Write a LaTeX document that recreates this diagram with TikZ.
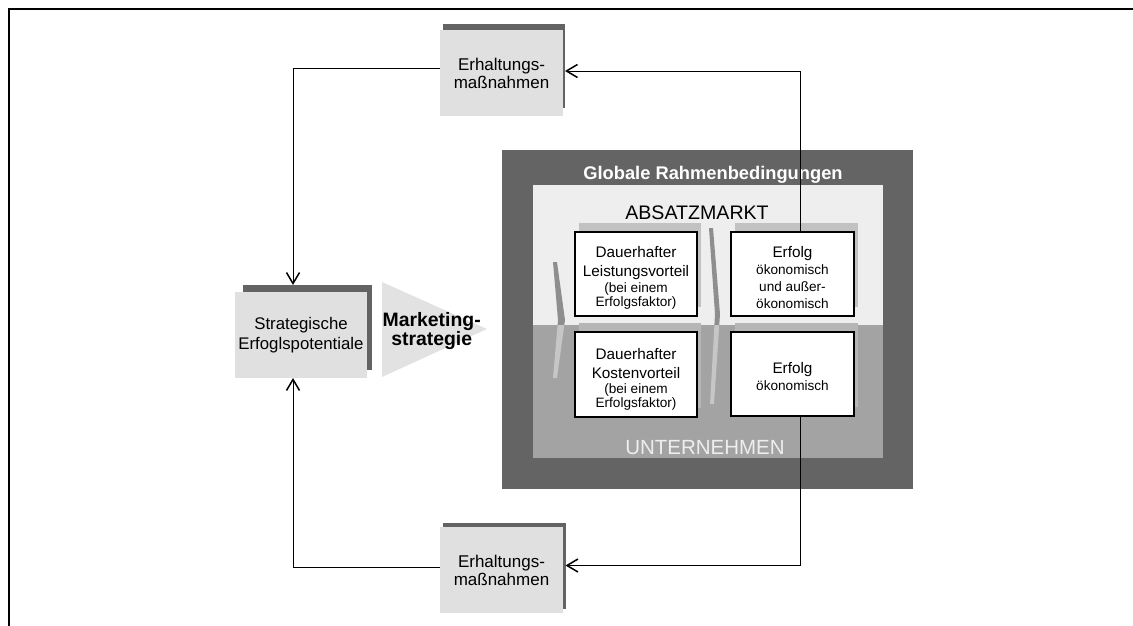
\documentclass[tikz,border=0pt]{standalone}
\usepackage{fontspec}
\setmainfont{Liberation Sans}
\usetikzlibrary{arrows.meta}
\newcommand{\fsz}[2]{\fontsize{#1}{#2}\selectfont}

\definecolor{frameDark}{HTML}{646464}
\definecolor{marketBg}{HTML}{EEEEEE}
\definecolor{firmBg}{HTML}{A3A3A3}
\definecolor{boxGray}{HTML}{E0E0E0}
\definecolor{triGray}{HTML}{E2E2E2}
\definecolor{shadowDark}{HTML}{636363}
\definecolor{shadowTop}{HTML}{C2C2C2}
\definecolor{shadowLow}{HTML}{B6B6B6}
\definecolor{chevTop}{HTML}{8E8E8E}
\definecolor{chevLow}{HTML}{C6C6C6}
\definecolor{firmText}{HTML}{EEEEEE}

\begin{document}
\begin{tikzpicture}[x=1pt,y=-1pt,
  area/.style args={#1x#2}{rectangle, inner sep=0pt, outer sep=0pt,
    minimum width=#1pt, minimum height=#2pt},
  graybox/.style={fill=boxGray, align=center, font=\fsz{17}{18}},
  whitebox/.style={fill=white, draw=black, line width=1.2pt},
  label/.style={inner sep=0pt, outer sep=0pt, align=center},
  boxtext/.style={label, font=\fsz{15.3}{18.5}},
  arr/.style={line width=0.9pt, -{Straight Barb[length=11pt,width=13pt,line width=1.5pt]}}]

\useasboundingbox (0,0) rectangle (1133,626);

% page border (top and left edge only)
\draw[line width=1.9pt] (8.7,626) -- (8.7,8.7) -- (1133,8.7);

% global frame with market / company zones
\node[area=411x339, fill=frameDark] (global) at (707.5,319.5) {};
\node[area=350x140, fill=marketBg] (market) at (708,255) {};
\node[area=350x133, fill=firmBg] (firm) at (708,391.5) {};

\node[label, text=white, font=\fsz{18.3}{20}\bfseries] (globT) at (713,175) {Globale Rahmenbedingungen};
\node[label, font=\fsz{19.6}{22}] (absT) at (697,212.5) {ABSATZMARKT};
\node[label, text=firmText, font=\fsz{20.5}{22}] (firmT) at (705,447.5) {UNTERNEHMEN};

% shadows of the advantage / success boxes
\node[area=122x84, fill=shadowTop] (As) at (640,265) {};
\node[area=123x84, fill=shadowTop] (Cs) at (796.5,265) {};
\node[area=122x85, fill=shadowLow] (Bs) at (640,365.5) {};
\node[area=123x84, fill=shadowLow] (Ds) at (796.5,365) {};

% chevrons between the columns
\begin{scope}
  \clip (533,185) rectangle (883,325);
  \fill[chevTop] (553,262) -- (557,262) -- (565,320) -- (557,378) -- (553,378) -- (558,320) -- cycle;
  \fill[chevTop] (709,228) -- (713,228) -- (720,314) -- (714,404) -- (710,404) -- (715,314) -- cycle;
\end{scope}
\begin{scope}
  \clip (533,325) rectangle (883,458);
  \fill[chevLow] (553,262) -- (557,262) -- (565,320) -- (557,378) -- (553,378) -- (558,320) -- cycle;
  \fill[chevLow] (709,228) -- (713,228) -- (720,314) -- (714,404) -- (710,404) -- (715,314) -- cycle;
\end{scope}

% advantage and success boxes
\node[whitebox, area=122x84] (A) at (636,274) {};
\node[whitebox, area=122x85] (B) at (636,374.5) {};
\node[whitebox, area=123x84] (C) at (792.5,274) {};
\node[whitebox, area=123x84] (D) at (792.5,374) {};

\node[boxtext] (At) at ([yshift=-4pt]A.center)
  {Dauerhafter\\[1pt]Leistungsvorteil\\[-3pt]\fsz{13.6}{15}(bei einem\\[-4pt]\fsz{13.6}{15}Erfolgsfaktor)};
\node[boxtext] (Bt) at ([yshift=-5pt]B.center)
  {Dauerhafter\\[1pt]Kostenvorteil\\[-4pt]\fsz{13.6}{15}(bei einem\\[-4pt]\fsz{13.6}{15}Erfolgsfaktor)};
\node[boxtext, font=\fsz{15.3}{17}] (Ct) at ([yshift=-4pt]C.center)
  {Erfolg\\\fsz{13.6}{17}ökonomisch\\\fsz{13.6}{17}und außer-\\\fsz{13.6}{17}ökonomisch};
\node[boxtext, font=\fsz{15.3}{17}] (Dt) at ([yshift=-3pt]D.center)
  {Erfolg\\\fsz{13.6}{17}ökonomisch};

% strategic potentials and marketing strategy
\node[area=129x85, fill=shadowDark] (sps) at (307.5,327.5) {};
\node[graybox, area=132x86, font=\fsz{16.8}{20}] (sp) at (301,335) {Strategische\\Erfoglspotentiale};
\fill[triGray] (382,282) -- (487,329) -- (382,377) -- cycle;
\node[label, font=\fsz{19.4}{19}\bfseries] (mk) at (431.7,331.5) {Marketing-\\strategie};

% maintenance measures
\node[area=122.3x84, fill=shadowDark] (e1s) at (503.85,66) {};
\node[graybox, area=123x86] (e1) at (501.5,73) {Erhaltungs-\\maßnahmen};
\node[area=123x86, fill=shadowDark] (e2s) at (504,565.5) {};
\node[graybox, area=123x86] (e2) at (501.5,570) {Erhaltungs-\\maßnahmen};

% feedback loops
\draw[arr] ([xshift=7.5pt]C.north) |- ([yshift=-5pt]e1s.east);
\draw[arr] ([xshift=7.5pt]D.south) |- (e2s.east);
\draw[arr] ([yshift=5pt]e1.west) -| ([xshift=-14.5pt]sps.north);
\draw[arr] ([yshift=3pt]e2.west) -| ([xshift=-8pt]sp.south);

\end{tikzpicture}
\end{document}
